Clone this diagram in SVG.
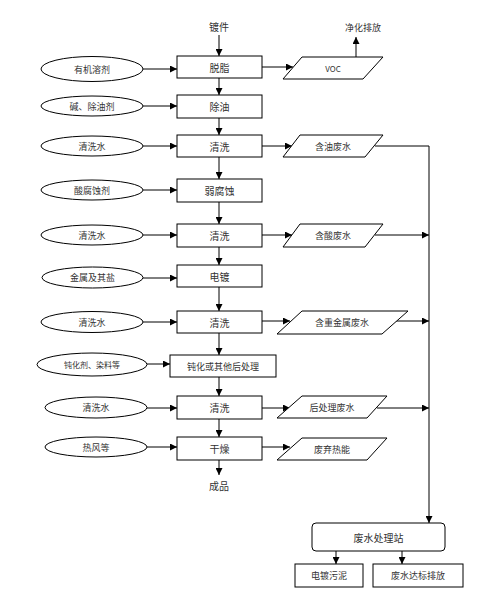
<svg xmlns="http://www.w3.org/2000/svg" width="479" height="606" viewBox="0 0 479 606">
<defs>
<marker id="ah" viewBox="0 0 10 10" refX="10" refY="5" markerWidth="7" markerHeight="7" markerUnits="userSpaceOnUse" orient="auto">
<path d="M0,0 L10,5 L0,10 z" fill="#000"/>
</marker>
<style>
.box{fill:#fff;stroke:#000;stroke-width:1}
.ell{fill:#fff;stroke:#000;stroke-width:1}
.par{fill:#fff;stroke:#000;stroke-width:1}
.ln{fill:none;stroke:#000;stroke-width:1}
.ar{fill:none;stroke:#000;stroke-width:1;marker-end:url(#ah)}
text{font-family:"Noto Sans CJK SC","Liberation Sans",sans-serif;font-size:10px;fill:#333;text-anchor:middle;dominant-baseline:central}
.s{font-size:9px}
.xs{font-size:8px}
</style>
</defs>
<rect width="479" height="606" fill="#fff"/>

<g id="connectors">
<path class="ar" d="M219,35 V56"/>
<path class="ar" d="M219,78 V95"/>
<path class="ar" d="M219,118 V135"/>
<path class="ar" d="M219,157 V179"/>
<path class="ar" d="M219,202 V224"/>
<path class="ar" d="M219,247 V265"/>
<path class="ar" d="M219,287 V311"/>
<path class="ar" d="M219,333 V355"/>
<path class="ar" d="M219,377 V396"/>
<path class="ar" d="M219,419 V437"/>
<path class="ar" d="M219,460 V475"/>
<path class="ar" d="M143,69 H177"/>
<path class="ar" d="M143,106 H177"/>
<path class="ar" d="M143,146 H177"/>
<path class="ar" d="M143,190 H177"/>
<path class="ar" d="M143,235 H177"/>
<path class="ar" d="M143,278 H177"/>
<path class="ar" d="M143,322 H177"/>
<path class="ar" d="M147,364 H170"/>
<path class="ar" d="M147,408 H177"/>
<path class="ar" d="M147,447 H177"/>
<path class="ar" d="M262,67 H293"/>
<path class="ar" d="M262,146 H292"/>
<path class="ar" d="M262,235 H292"/>
<path class="ar" d="M262,321 H290"/>
<path class="ar" d="M262,408 H290"/>
<path class="ar" d="M262,447 H290"/>
<path class="ar" d="M356,57 V37"/>
<path class="ln" d="M375,146 H429"/>
<path class="ar" d="M429,146 V523"/>
<path class="ar" d="M375,235 H429"/>
<path class="ar" d="M395,321 H429"/>
<path class="ar" d="M377,408 H429"/>
<path class="ar" d="M336,551 V564"/>
<path class="ar" d="M402,551 V564"/>
</g>

<g id="n-dujian"><text x="219" y="26">镀件</text></g>
<g id="n-chengpin"><text x="219" y="485">成品</text></g>
<g id="n-jinghua"><text x="363" y="27" class="s">净化排放</text></g>

<g id="n-tuozhi"><rect class="box" x="177" y="56" width="85" height="22"/><text x="219.5" y="67">脱脂</text></g>
<g id="n-chuyou"><rect class="box" x="177" y="95" width="85" height="23"/><text x="219.5" y="106.5">除油</text></g>
<g id="n-qx1"><rect class="box" x="177" y="135" width="85" height="22"/><text x="219.5" y="146">清洗</text></g>
<g id="n-ruofushi"><rect class="box" x="177" y="179" width="85" height="23"/><text x="219.5" y="190.5">弱腐蚀</text></g>
<g id="n-qx2"><rect class="box" x="177" y="224" width="85" height="23"/><text x="219.5" y="235.5">清洗</text></g>
<g id="n-diandu"><rect class="box" x="177" y="265" width="85" height="22"/><text x="219.5" y="276">电镀</text></g>
<g id="n-qx3"><rect class="box" x="177" y="311" width="85" height="22"/><text x="219.5" y="322">清洗</text></g>
<g id="n-dunhua"><rect class="box" x="170" y="355" width="106" height="22"/><text x="223" y="366" class="s">钝化或其他后处理</text></g>
<g id="n-qx4"><rect class="box" x="177" y="396" width="85" height="23"/><text x="219.5" y="407.5">清洗</text></g>
<g id="n-ganzao"><rect class="box" x="177" y="437" width="85" height="23"/><text x="219.5" y="448.5">干燥</text></g>

<g id="e-youji"><ellipse class="ell" cx="92" cy="69" rx="51" ry="12.5"/><text x="92" y="69" class="s">有机溶剂</text></g>
<g id="e-jian"><ellipse class="ell" cx="92" cy="106" rx="51" ry="10"/><text x="92" y="106" class="s">碱、除油剂</text></g>
<g id="e-qsw1"><ellipse class="ell" cx="92" cy="146" rx="51" ry="10"/><text x="92" y="146" class="s">清洗水</text></g>
<g id="e-suan"><ellipse class="ell" cx="92" cy="190" rx="51" ry="10"/><text x="92" y="190" class="s">酸腐蚀剂</text></g>
<g id="e-qsw2"><ellipse class="ell" cx="92" cy="235" rx="51" ry="10"/><text x="92" y="235" class="s">清洗水</text></g>
<g id="e-jinshu"><ellipse class="ell" cx="92.5" cy="277.5" rx="50.5" ry="10.5"/><text x="92.5" y="277.5" class="s">金属及其盐</text></g>
<g id="e-qsw3"><ellipse class="ell" cx="92" cy="322" rx="51" ry="10.5"/><text x="92" y="322" class="s">清洗水</text></g>
<g id="e-dunhuaji"><ellipse class="ell" cx="92" cy="364.5" rx="55" ry="11.5"/><text x="92" y="364.5" class="xs">钝化剂、染料等</text></g>
<g id="e-qsw4"><ellipse class="ell" cx="96" cy="407.5" rx="51" ry="10.5"/><text x="96" y="407.5" class="s">清洗水</text></g>
<g id="e-refeng"><ellipse class="ell" cx="96" cy="447" rx="51" ry="10"/><text x="96" y="447" class="s">热风等</text></g>

<g id="p-voc"><polygon class="par" points="302,57 383,57 363,79 283,79"/><text x="333" y="68" class="xs">VOC</text></g>
<g id="p-hanyou"><polygon class="par" points="300,135 383,135 365,157 283,157"/><text x="333" y="146" class="s">含油废水</text></g>
<g id="p-hansuan"><polygon class="par" points="300,224 383,224 365,247 283,247"/><text x="333" y="235.5" class="s">含酸废水</text></g>
<g id="p-zhongjinshu"><polygon class="par" points="302,311 408,311 382,334 277,334"/><text x="342" y="322.5" class="s">含重金属废水</text></g>
<g id="p-houchuli"><polygon class="par" points="302,396 387,396 367,418 277,418"/><text x="332" y="407" class="s">后处理废水</text></g>
<g id="p-feiqi"><polygon class="par" points="302,438 387,438 367,460 277,460"/><text x="332" y="449" class="s">废弃热能</text></g>

<g id="n-zhan"><rect class="box" x="312" y="523" width="133" height="28" rx="4"/><text x="378.5" y="537">废水处理站</text></g>
<g id="n-wuni"><rect class="box" x="295" y="564" width="68" height="23"/><text x="329" y="575.5" class="s">电镀污泥</text></g>
<g id="n-dabiao"><rect class="box" x="373" y="564" width="90" height="23"/><text x="418" y="575.5" class="s">废水达标排放</text></g>
</svg>
